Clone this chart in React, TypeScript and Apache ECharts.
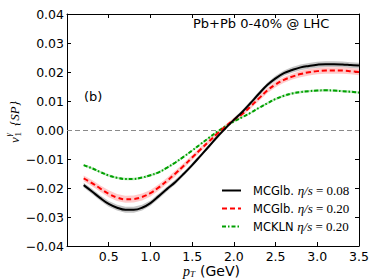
import React, { useEffect, useRef } from "react";
import * as echarts from "echarts";

const PT = [0.2, 0.3, 0.4, 0.5, 0.6, 0.7, 0.8, 0.9, 1.0, 1.1, 1.2, 1.3, 1.4, 1.5, 1.6, 1.7, 1.8, 1.9, 2.0, 2.1, 2.2, 2.3, 2.4, 2.5, 2.6, 2.7, 2.8, 2.9, 3.0, 3.1, 3.2, 3.3, 3.4, 3.5];

const MCGLB_008 = [-0.0190, -0.0212, -0.0235, -0.0255, -0.0268, -0.0275, -0.0275, -0.0268, -0.0252, -0.0228, -0.0203, -0.0179, -0.0151, -0.0121, -0.0089, -0.0057, -0.0024, 0.0006, 0.0035, 0.0062, 0.0093, 0.0125, 0.0155, 0.0178, 0.0196, 0.0207, 0.0216, 0.0221, 0.0225, 0.0227, 0.0227, 0.0226, 0.0224, 0.0222];
const MCGLB_020 = [-0.0167, -0.0183, -0.0202, -0.0220, -0.0233, -0.0239, -0.0238, -0.0231, -0.0218, -0.0198, -0.0175, -0.0150, -0.0123, -0.0095, -0.0067, -0.0040, -0.0013, 0.0012, 0.0035, 0.0055, 0.0081, 0.0109, 0.0136, 0.0157, 0.0173, 0.0184, 0.0193, 0.0199, 0.0203, 0.0205, 0.0205, 0.0205, 0.0203, 0.0200];
const MCKLN_020 = [-0.0121, -0.0132, -0.0145, -0.0157, -0.0165, -0.0169, -0.0169, -0.0164, -0.0156, -0.0146, -0.0130, -0.0112, -0.0092, -0.0071, -0.0049, -0.0027, -0.0006, 0.0013, 0.0029, 0.0044, 0.0059, 0.0076, 0.0092, 0.0107, 0.0118, 0.0126, 0.0131, 0.0134, 0.0136, 0.0137, 0.0136, 0.0134, 0.0132, 0.0129];

const ERR_008 = [0.0008, 0.0009, 0.0009, 0.0010, 0.0010, 0.0010, 0.0010, 0.0010, 0.0009, 0.0009, 0.0008, 0.0008, 0.0007, 0.0007, 0.0006, 0.0006, 0.0006, 0.0006, 0.0006, 0.0007, 0.0007, 0.0008, 0.0008, 0.0009, 0.0009, 0.0010, 0.0010, 0.0010, 0.0010, 0.0010, 0.0010, 0.0010, 0.0010, 0.0010];
const ERR_020 = [0.0010, 0.0011, 0.0011, 0.0012, 0.0012, 0.0012, 0.0012, 0.0012, 0.0011, 0.0011, 0.0010, 0.0010, 0.0009, 0.0009, 0.0008, 0.0008, 0.0007, 0.0007, 0.0007, 0.0008, 0.0008, 0.0009, 0.0009, 0.0010, 0.0010, 0.0010, 0.0011, 0.0011, 0.0011, 0.0011, 0.0011, 0.0011, 0.0011, 0.0011];
const ERR_KLN = [0.0004, 0.0004, 0.0004, 0.0004, 0.0004, 0.0004, 0.0004, 0.0004, 0.0004, 0.0004, 0.0004, 0.0004, 0.0003, 0.0003, 0.0003, 0.0003, 0.0003, 0.0003, 0.0003, 0.0003, 0.0003, 0.0003, 0.0004, 0.0004, 0.0004, 0.0004, 0.0004, 0.0004, 0.0004, 0.0004, 0.0004, 0.0004, 0.0004, 0.0004];

const NAMES = ["MCGlb. η/s=0.08", "MCGlb. η/s=0.20", "MCKLN η/s=0.20"];
const TITLE = "Pb+Pb 0-40% @ LHC";
const PANEL = "(b)";

const pairs = (ys: number[]) => PT.map((x, i) => [x, ys[i]]);

function band(id: string, ys: number[], err: number[], color: string) {
  const data = PT.map((x, i) => [x, ys[i] - err[i], ys[i] + err[i]]);
  return {
    type: "custom",
    name: id,
    silent: true,
    data,
    encode: { x: 0, y: [1, 2] },
    z: 1,
    renderItem: (params: any, api: any) => {
      if (params.dataIndex !== 0) return null;
      const upper = data.map((d) => api.coord([d[0], d[2]]));
      const lower = data.map((d) => api.coord([d[0], d[1]])).reverse();
      return {
        type: "polygon",
        shape: { points: upper.concat(lower) },
        style: { fill: color, stroke: "none" },
      };
    },
  };
}

export default function App() {
  const ref = useRef<HTMLDivElement>(null);
  useEffect(() => {
    document.body.style.margin = "0";
    if (!ref.current) return;
    const chart = echarts.init(ref.current, null, { renderer: "svg" });
    const sans = "DejaVu Sans";
    const serif = "Liberation Serif";
    const axisCommon = {
      type: "value",
      splitLine: { show: false },
      axisLine: { show: true, onZero: false, lineStyle: { color: "#000", width: 1 } },
      axisTick: { show: true, inside: true, length: 4, lineStyle: { color: "#000", width: 1 } },
    };
    const legendFmt = (name: string) => {
      const idx = name.indexOf("η/s");
      const pre = name.slice(0, idx).trim();
      const val = name.slice(idx + 4);
      return `{t|${pre} }{m|η/s}{r| = ${val}}`;
    };
    chart.setOption({
      animation: false,
      grid: { left: 67, right: 15, top: 14, bottom: 34, containLabel: false },
      xAxis: [
        {
          ...axisCommon,
          position: "bottom",
          min: 0,
          max: 3.5,
          interval: 0.5,
          axisLabel: {
            margin: 4,
            fontFamily: sans,
            fontSize: 12.5,
            lineHeight: 12,
            color: "#000",
            formatter: (v: number) => (v === 0 ? "" : v.toFixed(1)),
          },
        },
        {
          ...axisCommon,
          position: "top",
          min: 0,
          max: 3.5,
          interval: 0.5,
          axisLabel: { show: false },
        },
      ],
      yAxis: [
        {
          ...axisCommon,
          position: "left",
          min: -0.04,
          max: 0.04,
          interval: 0.01,
          axisLabel: {
            margin: 3,
            fontFamily: sans,
            fontSize: 12.5,
            color: "#000",
            formatter: (v: number) => v.toFixed(2).replace("-", "−").replace(/^−0\.00$/, "0.00"),
          },
        },
        {
          ...axisCommon,
          position: "right",
          min: -0.04,
          max: 0.04,
          interval: 0.01,
          axisLabel: { show: false },
        },
      ],
      legend: {
        data: NAMES,
        orient: "vertical",
        left: 221,
        top: 184,
        itemWidth: 19,
        itemHeight: 12,
        itemGap: 5,
        padding: 0,
        itemStyle: { opacity: 0 },
        textStyle: {
          padding: [0, 0, 0, 7],
          rich: {
            t: { fontFamily: sans, fontSize: 11.5, color: "#000" },
            m: { fontFamily: serif, fontStyle: "italic", fontSize: 13, color: "#000" },
            r: { fontFamily: serif, fontSize: 13, color: "#000" },
          },
        },
        formatter: legendFmt,
      },
      series: [
        band("b008", MCGLB_008, ERR_008, "rgba(150,150,150,0.55)"),
        band("b020", MCGLB_020, ERR_020, "rgba(255,140,140,0.45)"),
        band("bkln", MCKLN_020, ERR_KLN, "rgba(120,210,120,0.5)"),
        {
          type: "line",
          name: NAMES[2],
          data: pairs(MCKLN_020),
          symbol: "none",
          smooth: 0.4,
          lineStyle: { color: "#00a000", width: 2, type: [4, 2, 1.5, 2] },
          itemStyle: { color: "#00a000" },
          z: 3,
        },
        {
          type: "line",
          name: NAMES[1],
          data: pairs(MCGLB_020),
          symbol: "none",
          smooth: 0.4,
          lineStyle: { color: "#ff0000", width: 2, type: [5, 3] },
          itemStyle: { color: "#ff0000" },
          z: 4,
        },
        {
          type: "line",
          name: NAMES[0],
          data: pairs(MCGLB_008),
          symbol: "none",
          smooth: 0.4,
          lineStyle: { color: "#000000", width: 2 },
          itemStyle: { color: "#000000" },
          z: 5,
          markLine: {
            silent: true,
            symbol: ["none", "none"],
            label: { show: false },
            lineStyle: { color: "#8a8a8a", type: [5, 3], width: 1.2, opacity: 1 },
            emphasis: { disabled: true },
            data: [{ yAxis: 0 }],
            z: 2,
          },
        },
      ],
      graphic: [
        {
          type: "text",
          left: 193,
          top: 17,
          style: { text: TITLE, font: `13px "${sans}"`, fill: "#000" },
        },
        {
          type: "text",
          left: 84,
          top: 90,
          style: { text: PANEL, font: `13px "${sans}"`, fill: "#000" },
        },
        {
          type: "group",
          x: 14,
          y: 143,
          rotation: Math.PI / 2,
          children: [
            { type: "text", x: 0, y: 0, style: { text: "v", font: `italic 13px "${serif}"`, fill: "#000", textVerticalAlign: "middle" } },
            { type: "text", x: 6.5, y: 4, style: { text: "1", font: `9px "${serif}"`, fill: "#000", textVerticalAlign: "middle" } },
            { type: "text", x: 6.5, y: -6, style: { text: "γ", font: `italic 9px "${serif}"`, fill: "#000", textVerticalAlign: "middle" } },
            { type: "text", x: 17, y: 0, style: { text: "{SP}", font: `italic 13px "${serif}"`, fill: "#000", textVerticalAlign: "middle" } },
          ],
        },
        {
          type: "group",
          x: 183,
          y: 271,
          children: [
            { type: "text", x: 0, y: 0, style: { text: "p", font: `italic 14px "${serif}"`, fill: "#000", textVerticalAlign: "middle" } },
            { type: "text", x: 7, y: 3, style: { text: "T", font: `italic 9px "${serif}"`, fill: "#000", textVerticalAlign: "middle" } },
            { type: "text", x: 17, y: 0, style: { text: "(GeV)", font: `14px "${sans}"`, fill: "#000", textVerticalAlign: "middle" } },
          ],
        },
      ],
    });
    return () => chart.dispose();
  }, []);
  return <div ref={ref} style={{ width: 374, height: 280 }} />;
}
